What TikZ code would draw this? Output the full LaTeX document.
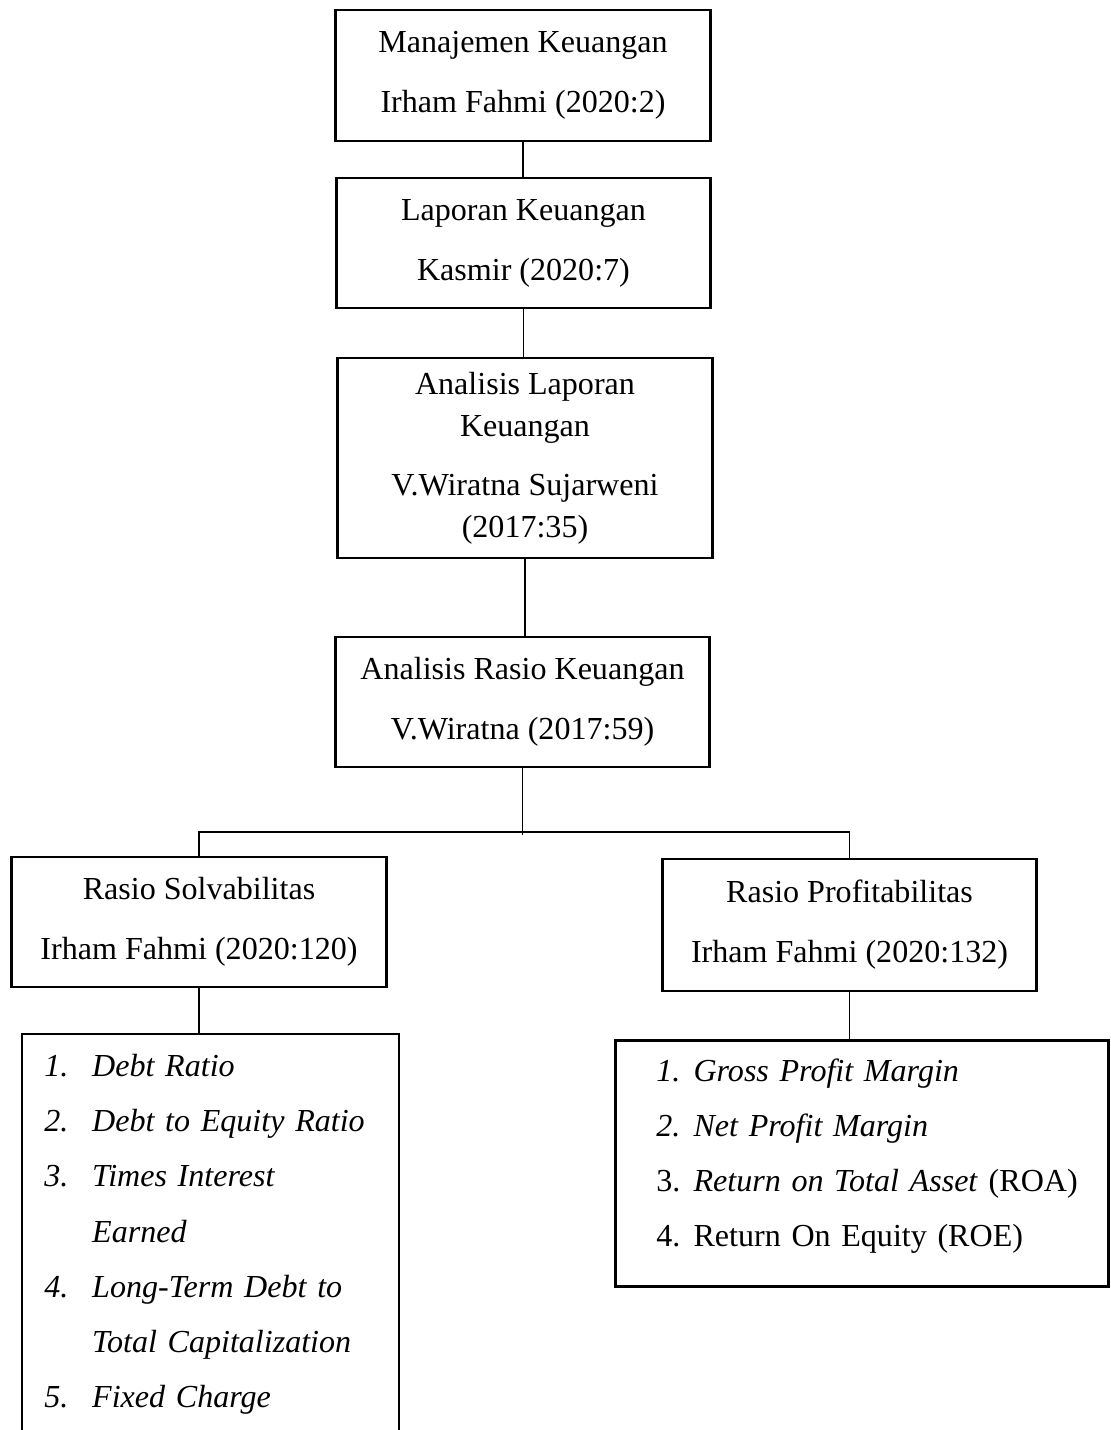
\documentclass[tikz,border=0pt]{standalone}
\usepackage{fontspec}
\setmainfont{Liberation Serif}
\usetikzlibrary{calc}

\newcommand{\butir}[3]{\mbox{\makebox[#1][l]{#2}#3}}

\begin{document}
\begin{tikzpicture}[x=0.0125cm, y=-0.0125cm,
        bigbox/.style={rectangle, draw, line width=1pt, inner sep=0pt, minimum width=4.68cm, align=center, font=\fontsize{11.4}{21.3}\selectfont},
        listbox/.style={rectangle, line width=1pt, align=left, font=\fontsize{11.4}{19.6}\selectfont},
        link/.style={line width=0.5pt}]
            \useasboundingbox (0,0) rectangle (1110,1430);
            \clip (0,0) rectangle (1110,1430);

            \node[bigbox, minimum height=1.6375cm] at (523, 75.5) (manajemen) {Manajemen Keuangan\\Irham Fahmi (2020:2)};
            \node[bigbox, minimum height=1.625cm] at (523.5, 243) (laporan) {Laporan Keuangan\\Kasmir (2020:7)};
            \node[bigbox, minimum height=2.5cm, font=\fontsize{11.4}{14.9}\selectfont] at (525, 458) (analisis) {Analisis Laporan\\Keuangan\\[6pt]V.Wiratna Sujarweni\\(2017:35)};
            \node[bigbox, minimum height=1.625cm] at (522.5, 702) (rasio) {Analisis Rasio Keuangan\\V.Wiratna (2017:59)};
            \node[bigbox, minimum height=1.625cm] at (199, 922) (solv) {Rasio Solvabilitas\\Irham Fahmi (2020:120)};
            \node[bigbox, minimum height=1.65cm] at (849.5, 925) (prof) {Rasio Profitabilitas\\Irham Fahmi (2020:132)};

            \node[listbox, anchor=north west, text width=4.15cm, inner xsep=0.2625cm, inner ysep=0.2375cm] at (22, 1034) (listsolv) {%
                \butir{17pt}{\textit{1.}}{\textit{Debt Ratio}}\\
                \butir{17pt}{\textit{2.}}{\textit{Debt to Equity Ratio}}\\
                \butir{17pt}{\textit{3.}}{\textit{Times Interest}}\\
                \butir{17pt}{}{\textit{Earned}}\\
                \butir{17pt}{\textit{4.}}{\textit{Long-Term Debt to}}\\
                \butir{17pt}{}{\textit{Total Capitalization}}\\
                \butir{17pt}{\textit{5.}}{\textit{Fixed Charge}}};
            \draw[line width=1pt] (listsolv.south west |- 0,1440) -- (listsolv.north west) -- (listsolv.north east) -- (listsolv.south east |- 0,1440);

            \node[listbox, draw, anchor=north west, text width=5.1375cm, inner xsep=0.5125cm, inner ysep=0.2375cm, text height=7.8pt, text depth=66.2pt] at (614, 1039) (listprof) {%
                \butir{13.2pt}{\textit{1.}}{\textit{Gross Profit Margin}}\\
                \butir{13.2pt}{\textit{2.}}{\textit{Net Profit Margin}}\\
                \butir{13.2pt}{3.}{\textit{Return on Total Asset} (ROA)}\\
                \butir{13.2pt}{4.}{Return On Equity (ROE)}};

            \coordinate (cabang) at (522, 832);

            \draw[link] (manajemen.south) -- (manajemen.south |- laporan.north);
            \draw[link] (laporan.south) -- (laporan.south |- analisis.north);
            \draw[link] (analisis.south) -- (analisis.south |- rasio.north);
            \draw[link] (rasio.south) -- ($(rasio.south |- cabang)+(0,3)$);
            \draw[link] (solv.north) |- (cabang) -| (prof.north);
            \draw[link] (solv.south) -- (solv.south |- listsolv.north);
            \draw[link] (prof.south) -- (prof.south |- listprof.north);
        \end{tikzpicture}
\end{document}
